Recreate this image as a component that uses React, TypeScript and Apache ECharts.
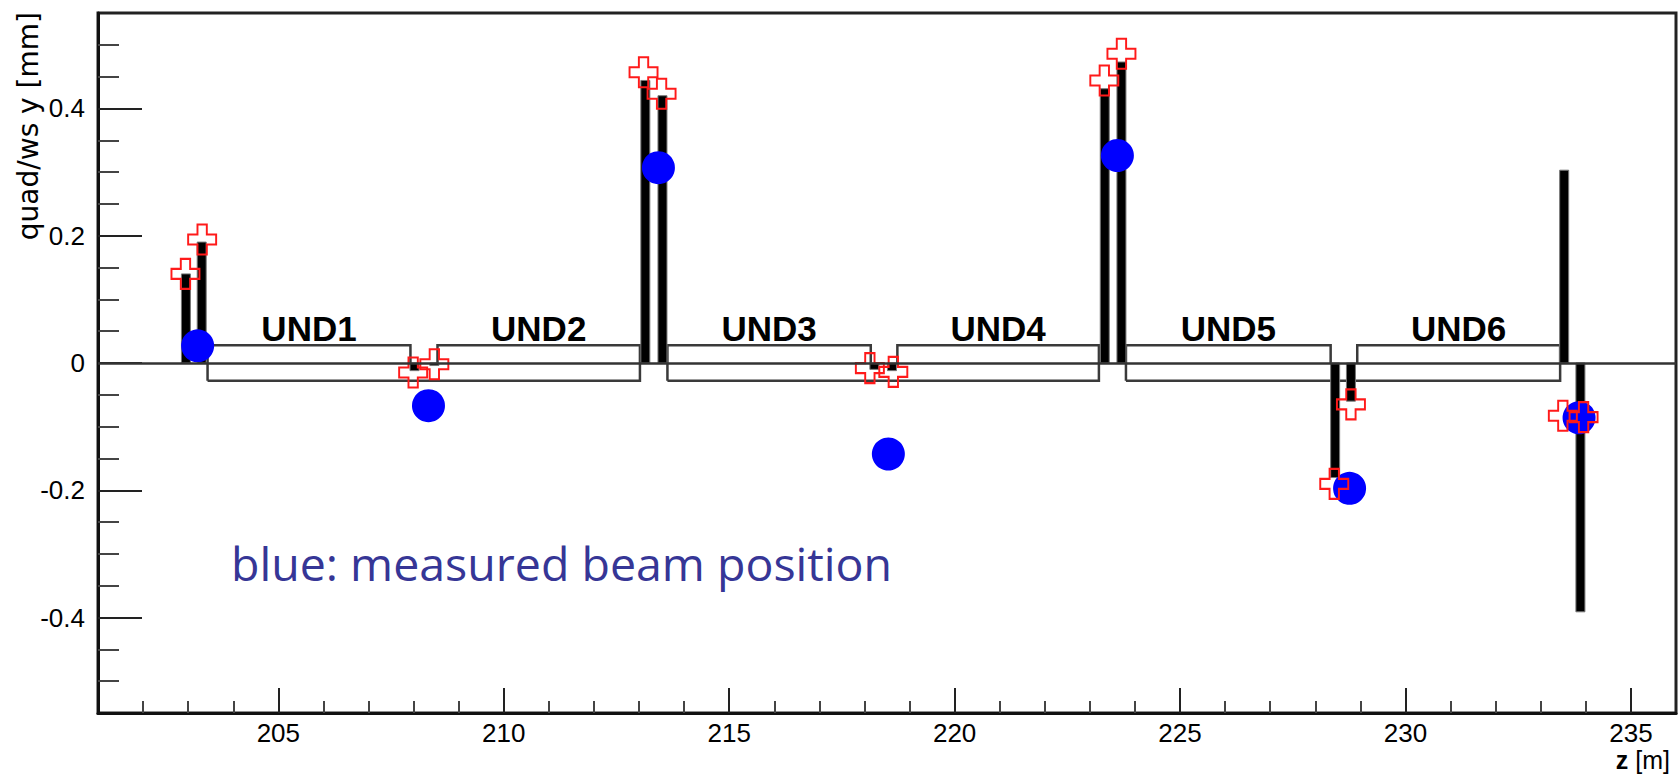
import React, { useEffect, useRef } from "react";
import * as echarts from "echarts";

// ---- data ----
const undNames = ["UND1", "UND2", "UND3", "UND4", "UND5", "UND6"];
const undStart = [203.43, 208.53, 213.63, 218.73, 223.8, 228.93];
const undEnd = [207.93, 213.02, 218.14, 223.2, 228.34, 233.43];

// quadrupole / wire-scanner offsets (black bars)
const quadZ = [202.95, 203.3, 208.02, 208.46, 213.14, 213.52, 218.22, 218.61, 223.33, 223.7, 228.44, 228.79, 233.52, 233.88];
const quadBar = [0.14, 0.19, -0.012, -0.004, 0.444, 0.42, -0.01, -0.012, 0.431, 0.473, -0.18, -0.06, 0.303, -0.391];

// red open crosses
const crossZ = [202.94, 203.31, 207.99, 208.46, 213.1, 213.5, 218.12, 218.64, 223.32, 223.7, 228.42, 228.79, 233.49, 233.95];
const crossY = [0.14, 0.194, -0.015, -0.002, 0.457, 0.423, -0.008, -0.014, 0.444, 0.486, -0.19, -0.065, -0.083, -0.085];

// blue: measured beam position
const bpmZ = [203.21, 208.33, 213.43, 218.53, 223.61, 228.76, 233.85];
const bpmY = [0.027, -0.067, 0.307, -0.143, 0.326, -0.197, -0.086];

// axis ticks
const xMajor = [205, 210, 215, 220, 225, 230, 235];
const xMinor = [202, 203, 204, 206, 207, 208, 209, 211, 212, 213, 214, 216, 217, 218, 219, 221, 222, 223, 224, 226, 227, 228, 229, 231, 232, 233, 234];
const yMajor = [-0.4, -0.2, 0, 0.2, 0.4];
const yMinor = [-0.5, -0.45, -0.35, -0.3, -0.25, -0.15, -0.1, -0.05, 0.05, 0.1, 0.15, 0.25, 0.3, 0.35, 0.45, 0.5];

const BOX_HALF = 0.028;
const CROSS_PATH = "path://M1,0 L2,0 L2,1 L3,1 L3,2 L2,2 L2,3 L1,3 L1,2 L0,2 L0,1 L1,1 Z";

export default function App() {
  const ref = useRef<HTMLDivElement>(null);

  useEffect(() => {
    if (!ref.current) return;
    const chart = echarts.init(ref.current, undefined, { renderer: "svg" });

    const tickFont = { fontFamily: "Liberation Sans", fontSize: 26, color: "#000" };

    const option: any = {
      animation: false,
      backgroundColor: "#fff",
      grid: {
        left: 98,
        right: 4,
        top: 13,
        bottom: 66,
        show: true,
        borderColor: "#222",
        borderWidth: 3,
        backgroundColor: "#fff",
      },
      xAxis: [
        {
          type: "value",
          position: "bottom",
          min: 201,
          max: 236,
          axisLine: { show: true, onZero: false, lineStyle: { color: "#111", width: 3 } },
          axisTick: { show: true, inside: true, length: 25, customValues: xMajor, lineStyle: { color: "#222", width: 2 } },
          axisLabel: { show: true, margin: 7, customValues: xMajor, ...tickFont },
          splitLine: { show: false },
        },
        {
          type: "value",
          position: "bottom",
          min: 201,
          max: 236,
          axisLine: { show: false, onZero: false },
          axisTick: { show: true, inside: true, length: 12, customValues: xMinor, lineStyle: { color: "#444", width: 2 } },
          axisLabel: { show: false },
          splitLine: { show: false },
        },
      ],
      yAxis: [
        {
          type: "value",
          position: "left",
          min: -0.55,
          max: 0.55,
          axisLine: { show: true, onZero: false, lineStyle: { color: "#111", width: 3 } },
          axisTick: { show: true, inside: true, length: 44, customValues: yMajor, lineStyle: { color: "#222", width: 2 } },
          axisLabel: { show: true, margin: 13, customValues: yMajor, ...tickFont },
          splitLine: { show: false },
        },
        {
          type: "value",
          position: "left",
          min: -0.55,
          max: 0.55,
          axisLine: { show: false, onZero: false },
          axisTick: { show: true, inside: true, length: 21, customValues: yMinor, lineStyle: { color: "#444", width: 2 } },
          axisLabel: { show: false },
          splitLine: { show: false },
        },
      ],
      graphic: [
        {
          type: "text",
          x: 28,
          y: 12,
          rotation: Math.PI / 2,
          silent: true,
          style: {
            text: "quad/ws y [mm]",
            font: '28px "DejaVu Sans"',
            fill: "#000",
            align: "right",
            verticalAlign: "middle",
          },
        },
        {
          type: "text",
          x: 1670,
          y: 760,
          silent: true,
          style: {
            text: "{b|z} [m]",
            font: '25px "Liberation Sans"',
            fill: "#000",
            align: "right",
            verticalAlign: "middle",
            rich: { b: { fontWeight: "bold", fontSize: 25, fontFamily: "Liberation Sans" } },
          },
        },
        {
          type: "text",
          x: 231,
          y: 563,
          silent: true,
          style: {
            text: "blue: measured beam position",
            font: '46.5px "Open Sans"',
            fill: "#363696",
            align: "left",
            verticalAlign: "middle",
          },
        },
      ],
      series: [
        {
          type: "custom",
          name: "undulators",
          silent: true,
          z: 1,
          xAxisIndex: 0,
          yAxisIndex: 0,
          data: undNames.map((n, i) => [undStart[i], undEnd[i], i]),
          renderItem: (params: any, api: any) => {
            const s = api.value(0);
            const e = api.value(1);
            const idx = api.value(2);
            const h = BOX_HALF;
            let pts: number[][];
            if (idx % 2 === 0) {
              pts = [api.coord([s, -h]), api.coord([s, h]), api.coord([e, h]), api.coord([e, 0])];
            } else {
              pts = [
                api.coord([s, 0]),
                api.coord([s, h]),
                api.coord([e, h]),
                api.coord([e, -h]),
                api.coord([undStart[idx - 1], -h]),
              ];
            }
            const top = api.coord([(s + e) / 2, h]);
            return {
              type: "group",
              children: [
                {
                  type: "polyline",
                  shape: { points: pts },
                  style: { stroke: "#3a3a3a", lineWidth: 2.5, fill: null },
                },
                {
                  type: "text",
                  x: top[0],
                  y: top[1] - 17,
                  style: {
                    text: undNames[idx],
                    font: 'bold 35px "Liberation Sans"',
                    fill: "#000",
                    align: "center",
                    verticalAlign: "middle",
                  },
                },
              ],
            };
          },
          markLine: {
            silent: true,
            symbol: ["none", "none"],
            label: { show: false },
            lineStyle: { color: "#333", width: 2.5, type: "solid" },
            data: [{ yAxis: 0 }],
          },
        },
        {
          type: "custom",
          name: "quad/ws",
          silent: true,
          z: 2,
          xAxisIndex: 0,
          yAxisIndex: 0,
          data: quadZ.map((z, i) => [z, quadBar[i]]),
          renderItem: (params: any, api: any) => {
            const p = api.coord([api.value(0), api.value(1)]);
            const p0 = api.coord([api.value(0), 0]);
            const w = 9;
            return {
              type: "rect",
              shape: { x: p[0] - w / 2, y: Math.min(p[1], p0[1]), width: w, height: Math.abs(p[1] - p0[1]) },
              style: { fill: "#000", stroke: "#777", lineWidth: 1 },
            };
          },
        },
        {
          type: "scatter",
          name: "measured",
          silent: true,
          z: 3,
          symbol: "circle",
          symbolSize: 33,
          itemStyle: { color: "#0000ff", opacity: 1 },
          data: bpmZ.map((z, i) => [z, bpmY[i]]),
        },
        {
          type: "scatter",
          name: "cross",
          silent: true,
          z: 4,
          symbol: CROSS_PATH,
          symbolSize: [28, 30],
          itemStyle: { color: "rgba(0,0,0,0)", borderColor: "#ff1a1a", borderWidth: 2, opacity: 1 },
          data: crossZ.map((z, i) => [z, crossY[i]]),
        },
      ],
    };

    chart.setOption(option);
    return () => chart.dispose();
  }, []);

  return (
    <div
      ref={ref}
      style={{ position: "fixed", left: 0, top: 0, width: 1680, height: 779, background: "#fff" }}
    />
  );
}
